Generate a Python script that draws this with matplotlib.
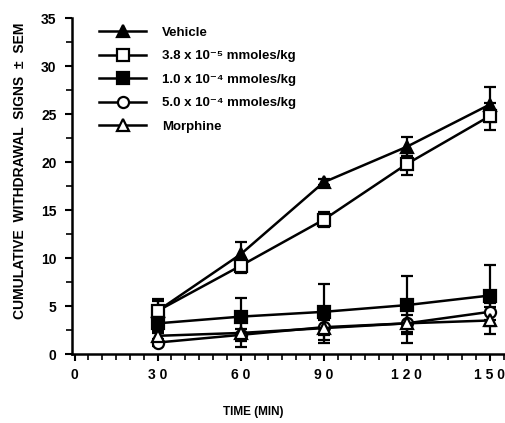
import matplotlib.pyplot as plt
import numpy as np

plt.rcParams['font.family'] = ['Liberation Sans', 'DejaVu Sans']
plt.rcParams['font.weight'] = 'bold'

times = [30, 60, 90, 120, 150]
labels = ['Vehicle',
          '3.8 x 10\u207b\u2075 mmoles/kg',
          '1.0 x 10\u207b\u2074 mmoles/kg',
          '5.0 x 10\u207b\u2074 mmoles/kg',
          'Morphine']
vehicle = [4.5, 10.4, 17.9, 21.6, 26.0]
vehicle_err = [1.0, 1.3, 0.3, 1.0, 1.8]
dose_38 = [4.5, 9.2, 14.0, 19.8, 24.8]
dose_38_err = [1.2, 0.8, 0.8, 1.1, 1.4]
dose_10 = [3.2, 3.9, 4.4, 5.1, 6.1]
dose_10_err = [1.0, 1.9, 2.9, 3.0, 3.2]
dose_50 = [1.2, 2.0, 2.8, 3.2, 4.4]
dose_50_err = [0.4, 0.6, 0.8, 0.9, 0.9]
morphine = [1.9, 2.2, 2.7, 3.2, 3.5]
morphine_err = [0.5, 1.5, 1.5, 2.0, 1.4]

series = [vehicle, dose_38, dose_10, dose_50, morphine]
errors = [vehicle_err, dose_38_err, dose_10_err, dose_50_err, morphine_err]
markers = ['^', 's', 's', 'o', '^']
faces = ['black', 'white', 'black', 'white', 'white']

fig = plt.figure(figsize=(5.06, 4.23), dpi=100)
ax = fig.add_axes([0.142, 0.163, 0.856, 0.794])

for y, e, m, fc, lab in zip(series, errors, markers, faces, labels):
    ax.errorbar(times, y, yerr=e, color='black', lw=1.8, marker=m, ms=8,
                mfc=fc, mec='black', mew=1.6, capsize=4, capthick=1.6,
                elinewidth=1.6, label=lab)

ax.set_xlim(-1, 155.5)
ax.set_ylim(0, 35)
ax.set_xticks([0, 30, 60, 90, 120, 150])
ax.set_xticklabels(['0', '3 0', '6 0', '9 0', '1 2 0', '1 5 0'])
ax.set_xticks(np.arange(0, 156, 5), minor=True)
ax.set_yticks(np.arange(0, 36, 5))
ax.set_yticks(np.arange(0, 36, 2.5), minor=True)
ax.spines['top'].set_visible(False)
ax.spines['right'].set_visible(False)
ax.spines['left'].set_linewidth(1.8)
ax.spines['bottom'].set_linewidth(1.8)
ax.tick_params(which='major', length=5, width=1.5, labelsize=10)
ax.tick_params(axis='x', which='major', pad=5)
ax.tick_params(axis='y', which='major', pad=6)
ax.tick_params(which='minor', length=4, width=1.2)

fig.text(0.5, 1 - 412 / 423, 'TIME (MIN)', fontsize=8.5, fontweight='bold',
         ha='center', va='center')
fig.text(20 / 506, 1 - 171 / 423, 'CUMULATIVE  WITHDRAWAL  SIGNS  \u00b1  SEM',
         fontsize=10, fontweight='bold', rotation=90, ha='center', va='center')

handles, labs = ax.get_legend_handles_labels()
handles = [h[0] for h in handles]
ax.legend(handles, labs, loc='upper left', bbox_to_anchor=(0.035, 1.01),
          frameon=False, fontsize=9.5, handlelength=3.6, labelspacing=0.85,
          handletextpad=1.2)

fig.savefig('out.png', dpi=100)
